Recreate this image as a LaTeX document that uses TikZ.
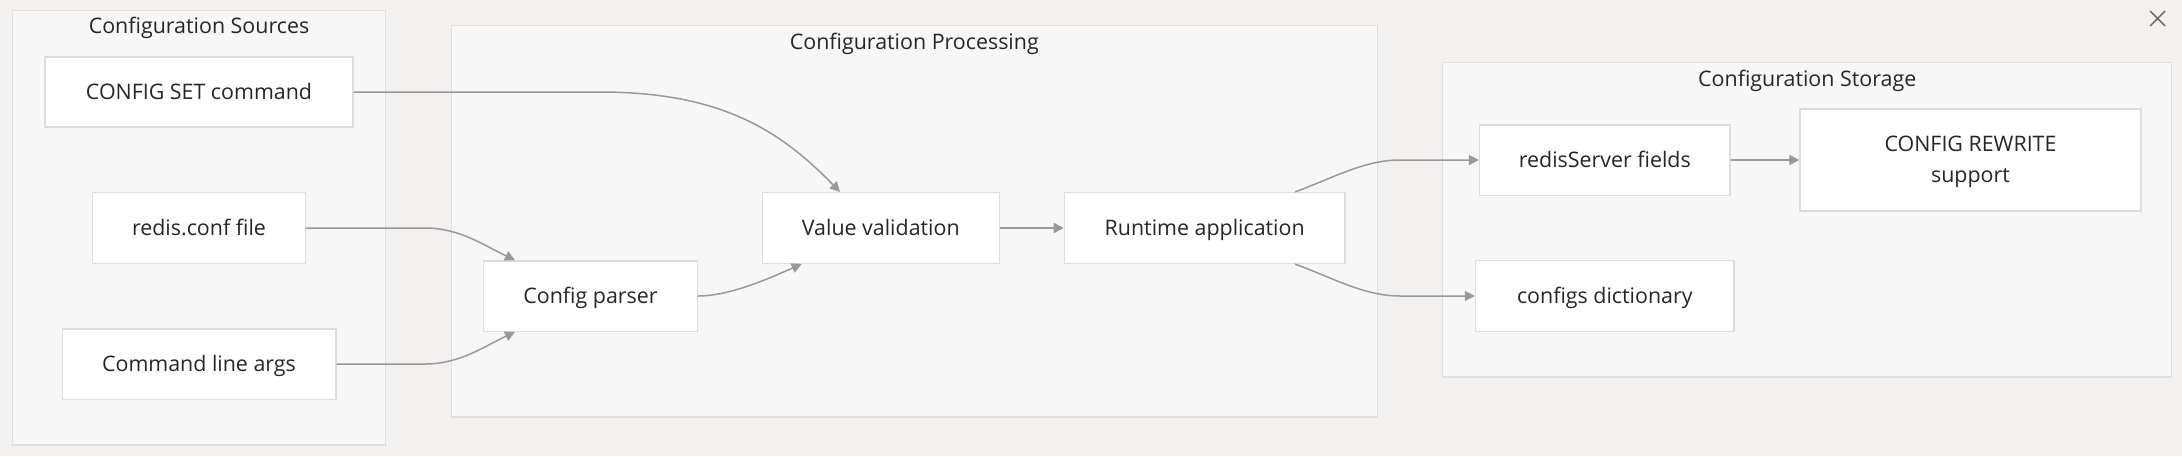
\documentclass[tikz,border=0pt]{standalone}
\usepackage{fontspec}
\setmainfont{Open Sans}
\usetikzlibrary{arrows.meta,calc}
\definecolor{bgc}{HTML}{F2F1F0}
\definecolor{clfill}{HTML}{F7F7F7}
\definecolor{clline}{HTML}{DEDEDE}
\definecolor{ndline}{HTML}{DDDDDD}
\definecolor{edgec}{HTML}{999999}
\definecolor{txt}{HTML}{262626}
\definecolor{xcol}{HTML}{666666}
\tikzset{
  cluster/.style={draw=clline, fill=clfill, line width=0.7pt, inner sep=0pt},
  cltitle/.style={anchor=base, text=txt, inner sep=0pt, font=\fontsize{10.7pt}{13pt}\selectfont},
  box/.style={draw=ndline, fill=white, line width=0.7pt, inner sep=0pt, text=txt,
    font=\fontsize{10.7pt}{13pt}\selectfont, text height=8.25pt, text depth=0.75pt},
  conn/.style={draw=edgec, line width=0.75pt, -{Triangle[length=5pt,width=5pt]}},
  xicon/.style={draw=xcol, line width=0.7pt}
}
\begin{document}
\begin{tikzpicture}[x=0.5pt,y=-0.5pt]
\useasboundingbox (0,0) rectangle (2182,456);
\fill[bgc] (0,0) rectangle (2182,456);
% clusters
\node[cluster, minimum width=186.7pt, minimum height=217.2pt] (srcbox) at (199,227.85) {};
\node[cluster, minimum width=463pt, minimum height=195.9pt] (procbox) at (914.3,221.15) {};
\node[cluster, minimum width=364.5pt, minimum height=157.2pt] (storbox) at (1807.15,219.85) {};
\node[cltitle] (srctitle) at (199,33.5) {Configuration Sources};
\node[cltitle] (proctitle) at (914.3,49.3) {Configuration Processing};
\node[cltitle] (stortitle) at (1807.2,86.7) {Configuration Storage};
% nodes
\node[box, minimum width=154pt, minimum height=35pt] (cfgset) at (199,92) {CONFIG SET command};
\node[box, minimum width=106.3pt, minimum height=35.3pt] (redis) at (199,228) {redis.conf file};
\node[box, minimum width=136.8pt, minimum height=35.2pt] (cmd) at (199,364) {Command line args};
\node[box, minimum width=106.8pt, minimum height=35.2pt] (parser) at (590.5,296) {Config parser};
\node[box, minimum width=118.5pt, minimum height=35.3pt] (valval) at (880.8,228) {Value validation};
\node[box, minimum width=140.3pt, minimum height=35.3pt] (runtime) at (1204.7,228) {Runtime application};
\node[box, minimum width=125.2pt, minimum height=35.2pt] (rsfields) at (1604.8,160) {redisServer fields};
\node[box, minimum width=170.5pt, minimum height=51pt, align=center, text height=23.45pt, text depth=0.75pt,
  font=\fontsize{10.7pt}{15.5pt}\selectfont] (rewrite) at (1970.5,160) {CONFIG REWRITE\\support};
\node[box, minimum width=129.2pt, minimum height=35.5pt] (configs) at (1604.8,296) {configs dictionary};
% connectors
\draw[conn] (cfgset.east) -- (600,92) .. controls (720,92) and (780,130) .. ($(valval.north)+(-40.8,0)$);
\draw[conn] (redis.east) -- (425,228) .. controls (460,228) and (485,246) .. ($(parser.north)+(-75.5,0)$);
\draw[conn] (cmd.east) -- (425,364) .. controls (460,364) and (485,346) .. ($(parser.south)+(-75.5,0)$);
\draw[conn] (parser.east) .. controls (730,296) and (770,278) .. ($(valval.south)+(-79.1,0)$);
\draw[conn] (valval.east) -- (runtime.west);
\draw[conn] ($(runtime.north)+(90.3,0)$) .. controls (1335,177) and (1365,160) .. (1400,160) -- (rsfields.west);
\draw[conn] ($(runtime.south)+(90.3,0)$) .. controls (1335,279) and (1365,296) .. (1400,296) -- (configs.west);
\draw[conn] (rsfields.east) -- (rewrite.west);
% close icon
\draw[xicon] (2150,11) -- (2165,26) (2150,26) -- (2165,11);
\end{tikzpicture}
\end{document}
